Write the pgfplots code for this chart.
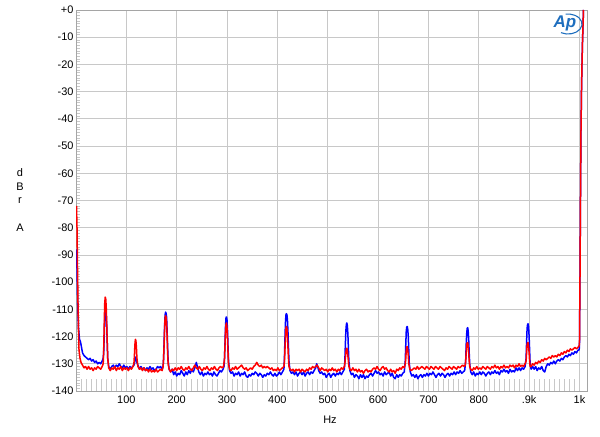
\documentclass[border=0pt]{standalone}
\usepackage{pgfplots}
\pgfplotsset{compat=1.18}
\usepackage{fontspec}
\setmainfont{Liberation Sans}
\definecolor{apblue}{RGB}{0,0,255}
\definecolor{apred}{RGB}{255,0,0}
\definecolor{gridc}{RGB}{200,200,200}
\definecolor{framec}{RGB}{165,165,165}
\definecolor{logoc}{RGB}{30,110,190}
\begin{document}
\begin{tikzpicture}[x=1bp,y=1bp]
\useasboundingbox (0,0) rectangle (600,437);
\begin{axis}[
  at={(76bp,46bp)}, anchor=south west,
  scale only axis, width=511bp, height=381bp,
  xmin=0, xmax=1015, ymin=-140, ymax=0,
  xtick={100,200,...,1000},
  xticklabels={100,200,300,400,500,600,700,800,.9k,1k},
  ytick={-140,-130,...,0},
  yticklabels={-140,-130,-120,-110,-100,-90,-80,-70,-60,-50,-40,-30,-20,-10,+0},
  minor y tick num=9,
  tick pos=left,
  major tick length=0pt,
  minor tick length=4bp,
  extra x ticks={10,20,...,1000},
  extra x tick labels={},
  extra x tick style={grid=none, major tick length=12bp, tick style={gridc, line width=0.6bp}},
  grid=major,
  major grid style={gridc, line width=0.7bp},
  minor tick style={gridc, line width=0.5bp},
  axis line style={framec, line width=0.8bp},
  tick label style={font=\fontsize{11}{13}\selectfont, text=black},
  yticklabel style={xshift=1bp},
  xticklabel style={yshift=-1bp},
  clip=true,
]
\addplot[apblue, line width=1.5bp, line join=round] coordinates {
(1,-88)(2,-95)(3,-105)(4,-112)(5,-117)(7,-121)(9,-122)(11,-124)(13,-126)(16,-127)(19,-127.5)(22,-128)(25,-128.5)(28,-128)(31,-129)(34,-128.5)(37,-129.5)(40,-129)(43,-130)(46,-129.5)(49,-130)(52,-129)(54,-128)
(55,-126)(56,-120)(57,-114)(58,-111.5)(59,-111)(60,-112)(61,-116)(62,-122)(63,-128)(65,-131)(68,-132)
(71,-131)(74,-130.5)(77,-131.5)(80,-130.5)(83,-131)(86,-130)(89,-131)(92,-131.5)(95,-130.5)(98,-131.5)(101,-131)(104,-132)(107,-131)(110,-131.5)(113,-131)(115,-130.5)
(116,-130)(118,-128)(119,-127.5)(120,-128)(121,-129.5)(123,-130.5)(126,-132)(129,-131)(132,-132)(135,-131.5)(138,-132.5)(141,-131.5)(144,-132)(147,-131)(150,-132)(153,-131.5)(156,-132.5)(159,-132)(162,-131)(165,-131.5)(168,-131)(171,-132)(173,-131)
(174,-128)(175,-122)(176,-116)(177,-112)(178,-111)(179,-111.5)(180,-113)(181,-118)(182,-124)(183,-129)(185,-132)(188,-133)(191,-132)(194,-134)(197,-133)(200,-134.5)(203,-133.5)(206,-134)(209,-132.5)(212,-133.5)(215,-134.5)(218,-133)(221,-134)(224,-132.5)(227,-133.5)(230,-132)(233,-133)(236,-131.5)(239,-129.5)(241,-131)(244,-133)(247,-134)(250,-133)(253,-134.5)(256,-133.5)(259,-134)(262,-133)(265,-134)(268,-133.5)(271,-134.5)(274,-133)(277,-134)(280,-134.5)(283,-133.5)(286,-132.5)(289,-133)(292,-132)(294,-131)
(295,-128)(296,-122)(297,-116)(298,-113)(299,-112.8)(300,-114)(301,-118)(302,-124)(303,-129)(305,-132.5)(308,-133.5)(311,-133)(314,-134.5)(317,-133.5)(320,-134)(323,-133)(326,-134.5)(329,-133.5)(332,-134)(335,-133)(338,-134.5)(341,-135)(344,-134)(347,-134.5)(350,-133.5)(353,-134)(356,-133)(359,-133.5)(362,-134.5)(365,-133.5)(368,-134)(371,-135)(374,-134)(377,-134.5)(380,-133.5)(383,-134)(386,-133)(389,-134)(392,-134.5)(395,-133.5)(398,-134.5)(401,-134)(404,-133)(407,-134)(410,-133)(413,-132)
(414,-128)(415,-121)(416,-115)(417,-112)(418,-111.6)(419,-112)(420,-114)(421,-118)(422,-124)(423,-129)(425,-132.5)(428,-133.5)(431,-133)(434,-134)(437,-133)(440,-134.5)(443,-133.5)(446,-133)(449,-134)(452,-133)(455,-134.5)(458,-133.5)(461,-133)(464,-134)(467,-133)(470,-133.5)(473,-132.5)(476,-131.5)(478,-130)(480,-131)(482,-132.5)(485,-133.5)(488,-133)(491,-134)(494,-133.5)(497,-135)(500,-134)(503,-133.5)(506,-135)(509,-134)(512,-133.5)(515,-134.5)(518,-133.5)(521,-134)(524,-133)(527,-134)(530,-133)(533,-132)
(534,-129)(535,-123)(536,-118)(537,-115.5)(538,-115)(539,-116)(540,-119)(541,-124)(542,-129)(544,-132.5)(547,-134)(550,-133.5)(553,-135)(556,-134)(559,-134.5)(562,-135.5)(565,-134)(568,-135)(571,-134)(574,-135.5)(577,-134.5)(580,-135)(583,-134)(586,-133.5)(589,-134.5)(592,-133.5)(595,-132.5)(598,-133.5)(601,-133)(604,-134)(607,-133.5)(610,-134.5)(613,-133)(616,-134)(619,-133.5)(622,-133)(625,-134.5)(628,-133.5)(631,-135)(634,-135.5)(637,-134)(640,-135)(643,-134)(646,-134.5)(649,-133.5)(652,-133)
(654,-129)(655,-123)(656,-118)(657,-116.5)(658,-116.3)(659,-117.5)(660,-120)(661,-125)(662,-130)(664,-133)(667,-134.5)(670,-134)(673,-135)(676,-134)(679,-135.5)(682,-134.5)(685,-134)(688,-135)(691,-134)(694,-134.5)(697,-133.5)(700,-134.5)(703,-133.5)(706,-134)(709,-133)(712,-134)(715,-135)(718,-134)(721,-133.5)(724,-134.5)(727,-133.5)(730,-134)(733,-135)(736,-134)(739,-133.5)(742,-134.5)(745,-133.5)(748,-134)(751,-133)(754,-134)(757,-133)(760,-133.5)(763,-132.5)(766,-133.5)(769,-133)(772,-132.5)
(774,-129)(775,-123)(776,-119)(777,-117)(778,-116.7)(779,-118)(780,-121)(781,-126)(782,-130)(784,-133)(787,-134)(790,-133)(793,-134.5)(796,-133.5)(799,-134)(802,-133)(805,-134)(808,-133)(811,-133.5)(814,-134.5)(817,-133.5)(820,-133)(823,-134)(826,-133)(829,-133.5)(832,-132.5)(835,-133.5)(838,-133)(841,-134)(844,-132.5)(847,-133)(850,-132)(853,-133)(856,-132.5)(859,-133.5)(862,-132)(865,-133)(868,-132.5)(871,-133)(874,-131.5)(877,-132.5)(880,-131.5)(883,-132.5)(886,-131.5)(889,-132)(892,-131)
(894,-128)(895,-122)(896,-117)(897,-115.5)(898,-115.3)(899,-116.5)(900,-120)(901,-125)(902,-130)(904,-132)(907,-131)(910,-132)(913,-131)(916,-132.5)(919,-131.5)(922,-132)(925,-131)(928,-132.5)(931,-133)(934,-131)(937,-130)(940,-130.5)(943,-129.5)(946,-130)(949,-129)(952,-130)(955,-129)(958,-128.5)(961,-129)(964,-128)(967,-128.5)(970,-127.5)(973,-127)(976,-127.5)(979,-126.5)(982,-127)(985,-126)(988,-126.5)(991,-125.5)(994,-126)(997,-125)(999,-125)
(1000,-124)(1001,-100)(1002,-70)(1003,-45)(1004,-30)(1005,-20)(1006,-12)(1007,-6)(1008,0)
};
\addplot[apred, line width=1.5bp, line join=round] coordinates {
(1,-72)(2,-80)(3,-95)(4,-108)(5,-118)(6,-125)(8,-128)(10,-129.5)(13,-130.5)(16,-131.5)(19,-131)(22,-132)(25,-131)(28,-132)(31,-131.5)(34,-132.5)(37,-131.5)(40,-132)(43,-131)(46,-131.5)(49,-132)(52,-131)(54,-130)
(55,-125)(56,-116)(57,-108)(58,-105.5)(59,-106)(60,-109)(61,-115)(62,-122)(63,-128)(65,-131.5)(68,-132.5)
(71,-131.5)(74,-132)(77,-131)(80,-132.5)(83,-131.5)(86,-132)(89,-131)(92,-132.5)(95,-131.5)(98,-132)(101,-131.5)(104,-132.5)(107,-131.5)(110,-132)(113,-131)(115,-130)
(116,-127)(117,-123)(118,-121)(119,-121.5)(120,-124)(121,-128)(123,-131)(126,-132)(129,-131.5)(132,-132.5)(135,-131.5)(138,-132.5)(141,-132)(144,-133)(147,-132)(150,-133)(153,-132.5)(156,-133)(159,-132)(162,-133)(165,-132.5)(168,-132)(171,-132.5)(173,-131)
(174,-128)(175,-123)(176,-117)(177,-113)(178,-112.3)(179,-113)(180,-115)(181,-120)(182,-126)(183,-130)(185,-132)(188,-133)(191,-132)(194,-132.5)(197,-131.5)(200,-132.5)(203,-131.5)(206,-132)(209,-131)(212,-132)(215,-132.5)(218,-131.5)(221,-132)(224,-131)(227,-132)(230,-132.5)(233,-131.5)(236,-130.5)(239,-131.5)(242,-132)(245,-131)(248,-132)(251,-132.5)(254,-131.5)(257,-132)(260,-131)(263,-132)(266,-132.5)(269,-131.5)(272,-132)(275,-131)(278,-132)(281,-132.5)(284,-131.5)(287,-131)(290,-131.5)(293,-131)
(295,-128)(296,-123)(297,-118)(298,-115.5)(299,-115)(300,-117)(301,-121)(302,-126)(303,-130)(305,-132)(308,-132.5)(311,-131.5)(314,-132)(317,-131)(320,-132)(323,-131.5)(326,-131)(329,-130.5)(332,-131.5)(335,-132)(338,-131.5)(341,-132.5)(344,-132)(347,-131.5)(350,-132)(353,-131)(356,-130.5)(359,-129.5)(362,-130.5)(365,-131)(368,-130.5)(371,-131.5)(374,-131)(377,-131.5)(380,-131)(383,-131.5)(386,-132)(389,-131.5)(392,-132.5)(395,-132)(398,-132.5)(401,-131.5)(404,-132.5)(407,-132)(410,-131.5)(413,-131)
(414,-129)(415,-125)(416,-120)(417,-117)(418,-116.3)(419,-117)(420,-120)(421,-124)(422,-128)(423,-131)(425,-132)(428,-132.5)(431,-132)(434,-133)(437,-132)(440,-132.5)(443,-132)(446,-133)(449,-132)(452,-132.5)(455,-133)(458,-132)(461,-132.5)(464,-131.5)(467,-132)(470,-131)(473,-131.5)(476,-131)(479,-130.5)(482,-131.5)(485,-132.5)(488,-131.5)(491,-132)(494,-132.5)(497,-132)(500,-133)(503,-132)(506,-132.5)(509,-131.5)(512,-132.5)(515,-132)(518,-133)(521,-132)(524,-132.5)(527,-131.5)(530,-132)(533,-131)
(534,-130)(535,-128)(536,-126)(537,-124.5)(538,-124.3)(539,-125)(540,-127)(541,-129)(542,-131)(544,-132)(547,-132.5)(550,-131.5)(553,-132.5)(556,-132)(559,-133)(562,-132)(565,-133)(568,-132.5)(571,-133.5)(574,-132.5)(577,-132)(580,-133)(583,-132.5)(586,-133)(589,-132)(592,-131.5)(595,-132)(598,-131)(601,-132)(604,-132.5)(607,-131.5)(610,-131)(613,-132)(616,-131.5)(619,-132.5)(622,-133)(625,-132)(628,-133)(631,-132.5)(634,-133.5)(637,-132)(640,-132.5)(643,-131.5)(646,-132)(649,-131)(652,-131.5)
(654,-130)(655,-128)(656,-125)(657,-123.8)(658,-123.7)(659,-125)(660,-127)(661,-130)(663,-132)(666,-132.5)(669,-132)(672,-131.5)(675,-132)(678,-131)(681,-132)(684,-131.5)(687,-131)(690,-131.5)(693,-132)(696,-131)(699,-131.5)(702,-132)(705,-131)(708,-131.5)(711,-132)(714,-131)(717,-131.5)(720,-132)(723,-131)(726,-131.5)(729,-132)(732,-132.5)(735,-131.5)(738,-132)(741,-131)(744,-131.5)(747,-132)(750,-131)(753,-131.5)(756,-132)(759,-131)(762,-131.5)(765,-131)(768,-130.5)(771,-131)(773,-130.5)
(774,-129)(775,-126)(776,-123)(777,-122.3)(778,-122.2)(779,-123.5)(780,-126)(781,-129)(782,-131)(784,-132)(787,-132.5)(790,-131.5)(793,-132)(796,-131)(799,-132)(802,-131.5)(805,-132)(808,-131)(811,-131.5)(814,-132)(817,-131)(820,-131.5)(823,-132)(826,-131)(829,-131.5)(832,-130.5)(835,-131.5)(838,-131)(841,-132)(844,-131)(847,-131.5)(850,-130.5)(853,-131.5)(856,-131)(859,-131.5)(862,-130.5)(865,-131)(868,-130.5)(871,-131.5)(874,-130.5)(877,-131)(880,-130)(883,-131)(886,-130.5)(889,-131)(892,-130)
(894,-129)(895,-126)(896,-123)(897,-122.3)(898,-122.2)(899,-123.5)(900,-126)(901,-129)(902,-131)(904,-131)(907,-130)(910,-130.5)(913,-129.5)(916,-130)(919,-129)(922,-129.5)(925,-128.5)(928,-129)(931,-128)(934,-128.5)(937,-128)(940,-127.5)(943,-128)(946,-127)(949,-127.5)(952,-127)(955,-127.5)(958,-126.5)(961,-127)(964,-126)(967,-126.5)(970,-125.5)(973,-126)(976,-125)(979,-125.5)(982,-124.5)(985,-125)(988,-124.5)(991,-124)(994,-124.5)(997,-124)(999,-123.5)
(1000,-123)(1001,-100)(1002,-70)(1003,-45)(1004,-30)(1005,-20)(1006,-12)(1007,-6)(1008,0)
};
\end{axis}
% y label (stacked letters)
\node[font=\fontsize{11}{13}\selectfont] at (20,264) {d};
\node[font=\fontsize{11}{13}\selectfont] at (20,250) {B};
\node[font=\fontsize{11}{13}\selectfont] at (20,236) {r};
\node[font=\fontsize{11}{13}\selectfont] at (20,209) {A};
% x label
\node[font=\fontsize{11}{13}\selectfont] at (330,17) {Hz};
% Ap logo
\draw[logoc, line width=1.1bp] (561,404.3) arc[start angle=240, end angle=460, x radius=14, y radius=10];
\node[logoc, font=\fontsize{17}{17}\selectfont\bfseries\itshape] at (565,414) {Ap};
\end{tikzpicture}
\end{document}
